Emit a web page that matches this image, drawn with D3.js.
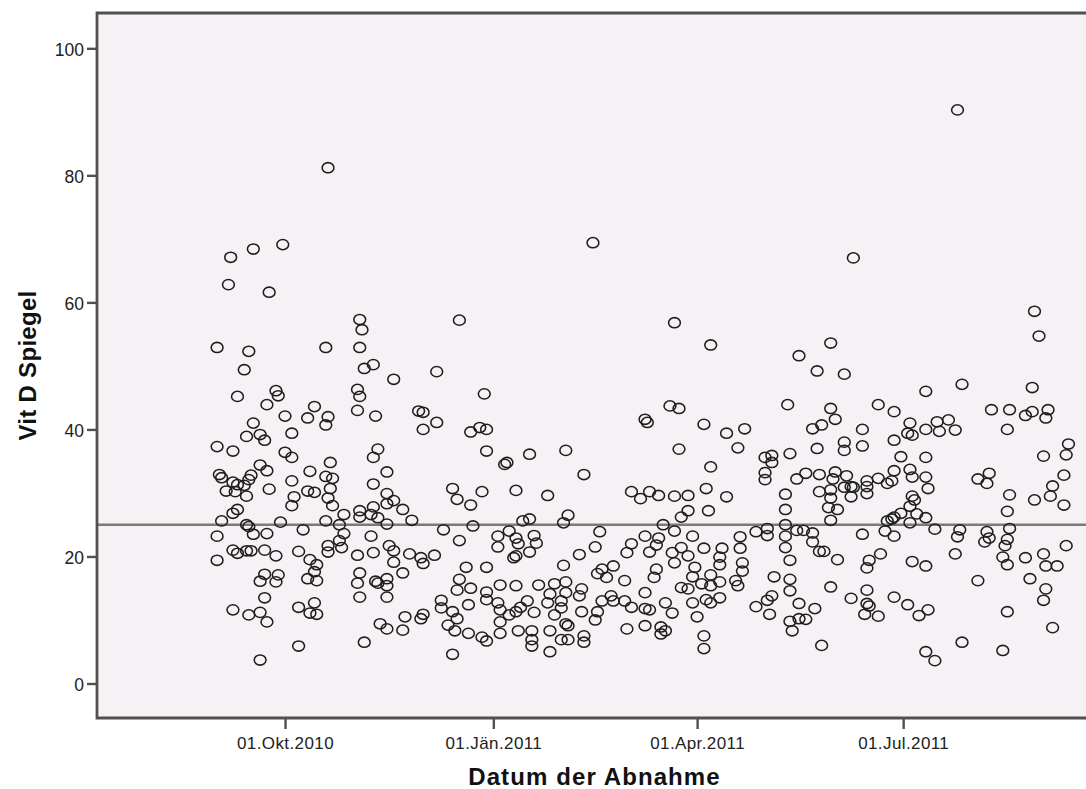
<!DOCTYPE html>
<html><head><meta charset="utf-8">
<script src="https://cdn.jsdelivr.net/npm/d3@7"></script>
<style>html,body{margin:0;padding:0;background:#fff;} svg{display:block;}</style>
</head><body>
<svg id="chart" width="1086" height="789"></svg>
<script>
// ---- data ----
const baseDate = "2010-10-01";              // day offsets are counted from this date
const xTickDates = ["2010-10-01", "2011-01-01", "2011-04-01", "2011-07-01"];
const xTickLabels = ["01.Okt.2010", "01.Jän.2011", "01.Apr.2011", "01.Jul.2011"];
const yTicks = [0, 20, 40, 60, 80, 100];
const yTickLabels = ["0", "20", "40", "60", "80", "100"];
const referenceValue = 25;
const xTitle = "Datum der Abnahme";
const yTitle = "Vit D Spiegel";

const dayOffsets = [
19,-1,-14,-24,-25,-7,-30,-16,18,-18,-21,-4,-3,-8,13,0,10,19,18,-14,-17,-11,-9,3,-30,-23,0,3,20,-11,-8,11,-29,-28,-15,-16,3,18,21,-23,-21,-18,-26,-22,-17,-7,10,13,20,19,4,3,21,-21,-23,26,-28,-17,-16,-2,18,24,-30,-14,-8,8,26,24,19,25,-23,-21,-17,-15,-9,-4,6,19,-30,11,14,13,10,14,-9,-3,-11,-4,-9,-23,-16,-11,-8,6,13,11,14,6,-11,
33,34,33,35,39,48,67,77,32,33,32,40,59,61,61,67,82,86,89,88,89,41,39,45,39,45,74,76,82,87,45,48,39,52,33,33,38,41,45,56,70,83,38,77,46,48,32,39,55,60,61,66,48,52,33,32,40,41,45,45,33,45,80,77,76,82,89,89,89,69,69,81,74,76,72,75,81,87,89,53,52,60,61,42,45,35,74,
136,98,97,108,124,132,102,116,153,105,108,125,123,94,94,99,102,103,110,111,108,139,137,102,101,130,123,95,102,112,119,124,131,138,140,142,145,150,151,153,94,95,99,95,102,104,107,110,117,116,122,124,130,119,122,124,125,131,138,137,140,144,145,150,153,95,103,109,109,109,117,117,122,125,132,132,151,
172,188,159,160,170,174,185,195,203,174,200,188,212,215,215,212,212,157,161,165,172,178,186,195,178,175,187,167,172,180,159,165,161,164,171,175,178,185,193,192,201,201,208,213,213,172,164,163,181,192,202,202,180,188,199,200,175,178,184,188,192,192,186,188,159,159,161,168,171,180,182,208,213,215,214,216,159,166,166,168,185,185,
251,241,227,235,247,222,241,243,233,237,262,269,283,223,235,247,247,255,255,269,276,275,277,283,272,283,221,226,230,236,243,242,248,247,250,251,257,257,257,262,266,268,269,276,277,283,284,236,241,241,250,221,240,244,277,278,276,272,269,279,283,241,266,268,221,276,226,229,233,265,269,255,221,221,233,236,238,223,244,258,257,263,277,283,223,223,227,234,241,250,257,257,258,256,262,269,275,280,284,223,224,227,230,237,
297,331,333,299,330,312,320,327,330,337,336,288,293,289,296,319,346,345,335,306,311,310,320,331,339,338,344,344,319,287,298,297,310,309,311,320,319,318,296,317,319,327,335,336,341,345,306,329,336,335,319,339,299,317,283,287
];
const vitD = [
81.2,69.1,68.4,67.1,62.8,61.6,52.9,52.3,52.9,49.4,45.2,46.1,45.3,43.9,43.6,42.1,41.8,42.0,40.7,41.0,38.9,39.2,38.3,39.4,37.3,36.6,36.4,35.6,34.8,34.4,33.5,33.4,32.9,32.4,32.8,32.1,31.9,32.6,32.3,31.7,31.3,31.2,30.3,30.2,29.5,30.6,30.3,30.1,30.7,29.2,29.4,28.0,28.0,27.4,26.8,26.6,25.6,25.0,24.7,25.4,25.6,25.0,23.2,23.5,23.6,24.2,23.6,22.5,21.7,21.4,21.0,20.5,20.9,20.9,21.0,20.1,20.8,20.7,19.4,19.5,18.7,17.6,16.5,16.2,17.2,17.1,16.1,16.0,13.5,11.6,10.8,11.2,9.7,12.0,12.7,11.1,10.9,5.9,3.7,
57.3,55.7,52.9,49.6,50.2,47.9,49.1,57.2,46.3,45.2,43.0,42.1,42.9,42.7,40.0,41.1,39.6,40.3,40.0,45.6,36.6,36.9,35.6,33.3,31.4,29.9,30.7,29.0,28.1,30.2,28.3,28.8,27.8,27.4,27.2,26.2,26.6,26.1,25.1,25.7,24.2,24.8,23.2,22.5,21.7,20.9,20.2,20.6,20.4,19.8,18.9,20.2,19.1,17.4,17.4,15.8,16.1,15.8,16.5,15.4,13.6,13.6,18.3,16.4,14.7,15.0,18.3,14.4,13.2,13.1,11.9,12.4,11.3,10.2,9.2,8.3,7.9,7.3,6.7,10.5,8.4,10.2,10.9,9.4,8.6,6.5,4.6,
69.4,34.8,34.5,36.1,36.7,32.9,30.4,29.6,30.2,25.6,25.9,26.5,25.3,23.2,21.5,24.0,22.9,22.0,23.3,22.1,20.7,23.9,21.5,20.1,19.8,20.3,18.6,15.5,15.4,15.5,15.7,16.0,14.9,17.3,18.0,16.7,18.5,16.2,20.6,22.0,12.7,11.6,10.8,9.7,11.3,12.0,13.0,11.2,14.1,12.7,13.0,14.3,13.8,10.8,11.9,9.4,9.1,11.3,11.3,10.0,13.0,13.8,13.0,13.0,12.0,7.9,8.3,8.3,6.9,5.9,8.3,5.0,6.9,6.9,6.5,7.5,8.6,
56.8,53.3,41.6,41.1,43.7,43.3,40.8,39.4,40.1,36.9,37.1,34.1,35.6,35.9,34.8,33.2,32.1,29.1,30.2,29.6,29.5,29.6,30.7,29.4,27.2,26.2,27.2,25.0,24.0,23.2,23.2,22.9,20.7,21.8,20.6,21.4,20.1,21.3,21.3,19.9,23.1,21.3,23.9,24.4,23.3,19.0,18.0,16.7,18.3,18.7,19.0,17.7,16.8,17.1,16.2,15.4,15.1,14.9,15.7,15.4,16.0,13.5,13.2,12.7,14.3,11.8,11.6,12.7,11.1,12.7,10.5,12.1,13.1,13.8,10.9,16.8,9.1,8.9,7.8,8.3,7.5,5.5,
67.0,53.6,51.6,49.2,48.7,43.9,43.3,41.6,40.1,40.7,43.9,42.8,46.0,36.2,37.0,38.0,36.7,40.0,37.4,38.3,41.0,39.4,39.1,40.0,35.7,35.6,29.8,32.2,33.1,32.9,33.3,32.2,32.7,30.9,31.0,30.9,31.9,31.0,29.9,32.3,31.5,31.9,33.5,33.7,32.5,32.5,30.7,30.2,30.5,29.2,29.4,27.4,27.7,27.4,29.5,28.9,27.9,26.8,26.2,26.7,26.1,25.7,25.6,25.9,25.0,25.3,24.1,24.1,23.7,24.0,23.2,23.5,23.2,21.4,22.3,20.8,20.8,19.4,19.5,19.4,18.2,20.4,19.2,18.5,16.4,14.6,12.6,11.8,15.2,13.4,14.7,12.6,12.2,10.9,10.6,13.6,12.4,10.7,11.6,9.8,8.3,10.2,10.1,6.0,
90.3,58.6,54.7,47.1,46.6,43.1,43.1,42.2,42.8,43.1,41.8,41.2,41.5,39.7,39.9,40.0,37.7,36.0,35.8,32.2,33.1,31.5,29.7,28.9,31.1,29.5,32.8,28.1,27.1,24.3,24.2,23.1,23.9,22.3,22.9,24.4,22.7,21.7,20.4,19.9,18.7,19.8,20.4,18.5,18.5,21.7,16.2,16.5,14.9,13.1,11.3,8.8,6.5,5.2,5.0,3.6
];

// ---- chart ----
const svg = d3.select("#chart");
const plot = {left: 97, right: 1092, top: 13, bottom: 718};
const DAY = 864e5;
const parse = d3.utcParse("%Y-%m-%d");
const base = parse(baseDate);
const toDate = off => new Date(base.getTime() + off * DAY);

const x = d3.scaleUtc()
  .domain([toDate(-83.04), toDate(356.4)])
  .range([plot.left, plot.right]);
const y = d3.scaleLinear()
  .domain([-5.43, 105.56])
  .range([plot.bottom, plot.top]);

const data = dayOffsets.map((d, i) => ({date: toDate(d), value: vitD[i]}));

const font = "'Liberation Sans', Arial, Helvetica, sans-serif";
const axisColor = "#505050";

// plot background
svg.append("rect")
  .attr("x", plot.left).attr("y", plot.top)
  .attr("width", plot.right - plot.left).attr("height", plot.bottom - plot.top)
  .attr("fill", "#f5f1f5");

// reference line
svg.append("line")
  .attr("x1", plot.left).attr("x2", plot.right)
  .attr("y1", y(referenceValue)).attr("y2", y(referenceValue))
  .attr("stroke", "#7a7a7a").attr("stroke-width", 2.6);

// points
svg.append("g").selectAll("ellipse").data(data).join("ellipse")
  .attr("cx", d => x(d.date))
  .attr("cy", d => y(d.value))
  .attr("rx", 5.9).attr("ry", 5.1)
  .attr("fill", "none")
  .attr("stroke", "#1e1e1e")
  .attr("stroke-width", 1.55);

// y axis
const yAxis = d3.axisLeft(y).tickValues(yTicks)
  .tickFormat((d, i) => yTickLabels[i]).tickSize(10).tickSizeOuter(0);
const gy = svg.append("g").attr("transform", `translate(${plot.left},0)`).call(yAxis);
gy.select(".domain").remove();
gy.selectAll(".tick line").attr("stroke", axisColor).attr("stroke-width", 2.4);
gy.selectAll(".tick text").attr("font-family", font).attr("font-size", 17.5)
  .attr("fill", "#222").attr("x", -13).attr("dy", "0.42em");

// x axis
const xAxis = d3.axisBottom(x)
  .tickValues(xTickDates.map(s => parse(s)))
  .tickFormat((d, i) => xTickLabels[i]).tickSize(11).tickSizeOuter(0);
const gx = svg.append("g").attr("transform", `translate(0,${plot.bottom})`).call(xAxis);
gx.select(".domain").remove();
gx.selectAll(".tick line").attr("stroke", axisColor).attr("stroke-width", 2.4);
gx.selectAll(".tick text").attr("font-family", font).attr("font-size", 17)
  .attr("fill", "#222").attr("y", 19).attr("dy", "0.71em")
  .attr("letter-spacing", 0.4);

// frame (left, top, bottom)
svg.append("path")
  .attr("d", `M${plot.right + 5},${plot.top}H${plot.left}V${plot.bottom}H${plot.right + 5}`)
  .attr("fill", "none").attr("stroke", axisColor).attr("stroke-width", 2.8);

// titles
svg.append("text")
  .attr("x", (plot.left + plot.right) / 2).attr("y", 785)
  .attr("text-anchor", "middle")
  .attr("font-family", font).attr("font-weight", "bold").attr("font-size", 24)
  .attr("letter-spacing", 1.1)
  .attr("fill", "#111").text(xTitle);

svg.append("text")
  .attr("transform", `translate(36,${(plot.top + plot.bottom) / 2}) rotate(-90)`)
  .attr("text-anchor", "middle")
  .attr("font-family", font).attr("font-weight", "bold").attr("font-size", 24)
  .attr("letter-spacing", 0.3)
  .attr("fill", "#111").text(yTitle);
</script>
</body></html>
